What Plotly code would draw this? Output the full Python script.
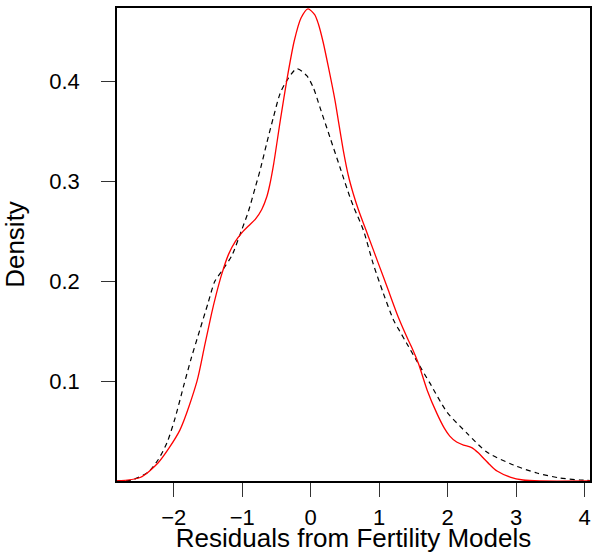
import plotly.graph_objects as go

# Red (solid) density curve
red_x = [-2.83, -2.49, -2.23, -1.91, -1.66, -1.55, -1.45, -1.38, -1.30, -1.20,
         -1.10, -1.00, -0.90, -0.81, -0.715, -0.64, -0.60, -0.54, -0.44, -0.34,
         -0.24, -0.14, -0.04, 0.06, 0.111, 0.18, 0.257, 0.355, 0.403, 0.476,
         0.549, 0.62, 0.695, 0.77, 0.841, 0.987, 1.133, 1.279, 1.425, 1.474,
         1.571, 1.70, 1.84, 1.95, 2.03, 2.13, 2.23, 2.35, 2.45, 2.52,
         2.62, 2.72, 2.91, 3.10, 3.35, 4.08]
red_y = [0.000, 0.0035, 0.018, 0.051, 0.100, 0.135, 0.167, 0.187, 0.207, 0.227,
         0.240, 0.249, 0.256, 0.262, 0.272, 0.285, 0.296, 0.318, 0.363, 0.405,
         0.441, 0.464, 0.473, 0.467, 0.458, 0.440, 0.415, 0.381, 0.361, 0.331,
         0.306, 0.288, 0.272, 0.258, 0.245, 0.218, 0.191, 0.164, 0.141, 0.134,
         0.118, 0.091, 0.068, 0.053, 0.045, 0.039, 0.036, 0.0335, 0.028, 0.023,
         0.016, 0.010, 0.004, 0.001, 0.000, 0.000]

# Black dashed density curve
dash_x = [-2.83, -2.61, -2.37, -2.23, -2.10, -1.98, -1.86, -1.74, -1.62, -1.50,
          -1.40, -1.28, -1.15, -1.01, -0.91, -0.81, -0.74, -0.64, -0.546, -0.448,
          -0.35, -0.204, -0.058, 0.038, 0.136, 0.282, 0.428, 0.574, 0.63,
          0.77, 0.91, 1.06, 1.21, 1.30, 1.40, 1.55, 1.74, 1.99, 2.28,
          2.57, 2.96, 3.30, 3.64, 3.93, 4.08]
dash_y = [0.000, 0.001, 0.009, 0.021, 0.038, 0.063, 0.094, 0.124, 0.151, 0.178,
          0.200, 0.212, 0.226, 0.251, 0.270, 0.294, 0.311, 0.339, 0.364, 0.388,
          0.401, 0.413, 0.406, 0.394, 0.374, 0.344, 0.314, 0.284, 0.274,
          0.251, 0.218, 0.188, 0.161, 0.150, 0.138, 0.120, 0.098, 0.069, 0.048,
          0.029, 0.016, 0.008, 0.003, 0.001, 0.0005]

x_ticks = [-2, -1, 0, 1, 2, 3, 4]
y_ticks = [0.1, 0.2, 0.3, 0.4]

font = "Liberation Sans, Arial, sans-serif"

fig = go.Figure()
fig.add_trace(go.Scatter(x=dash_x, y=dash_y, mode="lines",
                         line=dict(color="#000000", width=1.2, dash="5px,4px",
                                   shape="spline", smoothing=0.7),
                         showlegend=False, hoverinfo="skip"))
fig.add_trace(go.Scatter(x=red_x, y=red_y, mode="lines",
                         line=dict(color="#FF0000", width=1.3,
                                   shape="spline", smoothing=0.7),
                         showlegend=False, hoverinfo="skip"))

fig.update_layout(
    width=592, height=553,
    margin=dict(l=117, r=2, t=8, b=72),
    paper_bgcolor="white", plot_bgcolor="white",
    font=dict(family=font, size=22, color="black"),
    xaxis=dict(range=[-2.828, 4.077], tickvals=x_ticks,
               ticktext=["\u22122", "\u22121", "0", "1", "2", "3", "4"],
               ticks="outside", ticklen=14, tickwidth=1, tickcolor="#333",
               showline=True, linecolor="black", linewidth=1.5, mirror=True,
               showgrid=False, zeroline=False, ticklabelstandoff=2,
               automargin=False,
               title=dict(text="Residuals from Fertility Models", standoff=0)),
    yaxis=dict(range=[0, 0.4738], tickvals=y_ticks,
               ticktext=["0.1", "0.2", "0.3", "0.4"],
               ticks="outside", ticklen=14, tickwidth=1, tickcolor="#333",
               showline=True, linecolor="black", linewidth=1.5, mirror=True,
               showgrid=False, zeroline=False, ticklabelstandoff=17,
               automargin=False,
               title=dict(text="Density", standoff=18)),
)

fig.write_html(
    "out.html",
    config={"displayModeBar": False},
    post_script="document.body.style.margin='0';document.body.style.overflow='hidden';",
)
